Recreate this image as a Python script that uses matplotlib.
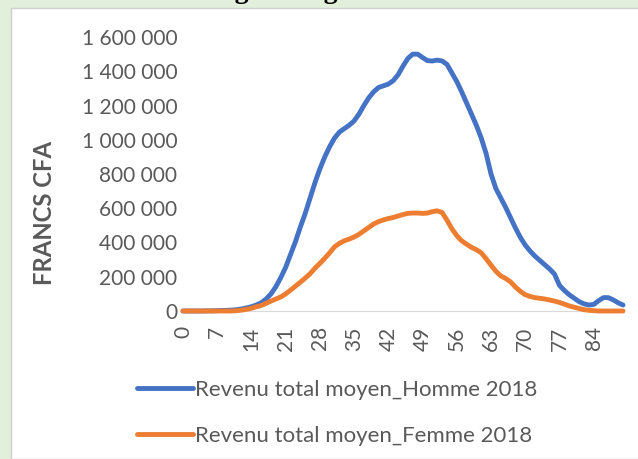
import numpy as np
import matplotlib
matplotlib.use("Agg")
import matplotlib.pyplot as plt
from matplotlib.patches import Rectangle
from matplotlib.ticker import FuncFormatter

# ages 0..90
ages = list(range(91))

# revenu total moyen, hommes 2018 (FCFA)
homme = [0, 0, 0, 0, 0, 1, 1, 2, 3, 4,
         5, 8, 12, 18, 25, 35, 48, 70, 100, 142,
         195, 255, 330, 405, 490, 570, 660, 750, 830, 900,
         960, 1010, 1045, 1065, 1085, 1110, 1150, 1200, 1245, 1280,
         1305, 1315, 1325, 1345, 1380, 1430, 1475, 1500, 1500, 1480,
         1462, 1460, 1465, 1460, 1440, 1390, 1340, 1280, 1215, 1150,
         1085, 1010, 920, 800, 715, 660, 605, 545, 485, 430,
         385, 350, 320, 295, 270, 245, 215, 150, 120, 95,
         75, 55, 42, 35, 38, 60, 78, 78, 65, 48,
         35]

# revenu total moyen, femmes 2018 (FCFA)
femme = [0, 0, 0, 0, 0, 0, 0, 0, 0, 0,
         0, 2, 5, 10, 16, 25, 32, 45, 58, 70,
         82, 100, 122, 145, 168, 192, 218, 250, 278, 308,
         340, 375, 395, 410, 420, 432, 448, 468, 488, 508,
         522, 532, 540, 546, 555, 563, 570, 572, 572, 570,
         572, 580, 585, 575, 530, 480, 440, 410, 390, 372,
         358, 340, 305, 268, 232, 205, 190, 170, 140, 115,
         95, 85, 78, 74, 70, 64, 58, 50, 40, 30,
         22, 15, 8, 4, 2, 0, 0, 0, 0, 0,
         0]

homme = np.array(homme) * 1000
femme = np.array(femme) * 1000

xticks = list(range(0, 85, 7))
yticks = list(range(0, 1600001, 200000))

gris = "#595959"
plt.rcParams["font.family"] = ["Lato", "DejaVu Sans"]

fig = plt.figure(figsize=(6.38, 4.59), dpi=100)
fig.patch.set_facecolor("#E2EFDA")

# titre coupé en haut de l'image (seul le bas des lettres reste visible)
fig.text(-0.017, 1 + 2 / 459, "revenu total selon l'âge et le genre.",
         fontsize=20, fontweight="bold", family="Liberation Serif",
         color="black", va="baseline", ha="left", zorder=0)

# cadre blanc du graphique
fig.patches.append(Rectangle((11 / 638, 0), 1.0, 1 - 8 / 459,
                             transform=fig.transFigure, facecolor="white",
                             edgecolor="#D0D0D0", lw=1, zorder=1))

ax = fig.add_axes([183 / 638, 1 - 311 / 459, 440 / 638, 274 / 459])
ax.set_facecolor("none")
ax.set_zorder(2)

l1, = ax.plot(ages, homme, color="#4472C4", lw=3.5, solid_capstyle="round",
              label="Revenu total moyen_Homme 2018", clip_on=False)
l2, = ax.plot(ages, femme, color="#ED7D31", lw=3.5, solid_capstyle="round",
              label="Revenu total moyen_Femme 2018", clip_on=False)

ax.set_xlim(0, 90)
ax.set_ylim(0, 1600000)
ax.set_xticks(xticks)
ax.set_yticks(yticks)
ax.yaxis.set_major_formatter(FuncFormatter(lambda v, p: f"{int(v):,}".replace(",", " ")))
ax.tick_params(axis="both", length=0, labelsize=15, colors=gris)
ax.tick_params(axis="y", pad=4)
ax.tick_params(axis="x", pad=11, labelrotation=90)

for s in ["top", "right", "left"]:
    ax.spines[s].set_visible(False)
ax.spines["bottom"].set_color("#D9D9D9")
ax.spines["bottom"].set_zorder(0)

fig.text(45 / 638, 1 - 213 / 459, "FRANCS CFA", rotation=90, fontsize=17.2,
         fontweight="bold", color=gris, ha="center", va="center", zorder=3)

leg = fig.legend(handles=[l1, l2], loc="upper left",
                 bbox_to_anchor=(117 / 638, 1 - 360 / 459), ncol=1,
                 frameon=False, fontsize=16, handlelength=2.5,
                 handletextpad=0.13, labelspacing=1.17)
for t in leg.get_texts():
    t.set_color(gris)

fig.savefig("out.png", dpi=100, facecolor=fig.get_facecolor())
